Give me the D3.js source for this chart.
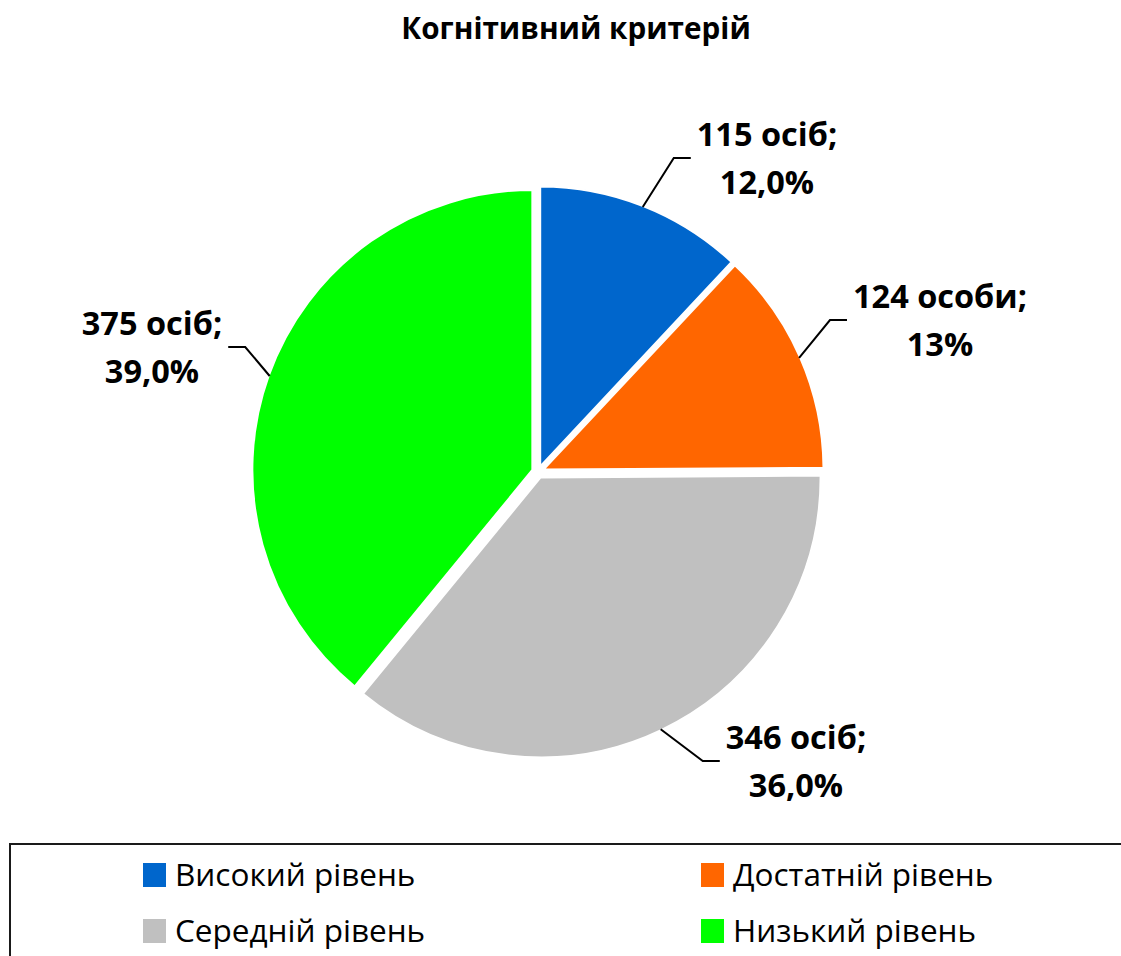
<!DOCTYPE html>
<html>
<head>
<meta charset="utf-8">
<script src="https://cdn.jsdelivr.net/npm/d3@7"></script>
<style>
  body { margin: 0; background: #fff; }
  svg { display: block; }
</style>
</head>
<body>
<div id="chart"></div>
<script>
// Data
//////////////////////////////////////////////////////////////////////
const categories = ["Високий рівень", "Достатній рівень", "Середній рівень", "Низький рівень"];
const counts = [115, 124, 346, 375];
const countLabels = ["115 осіб;", "124 особи;", "346 осіб;", "375 осіб;"];
const pctLabels = ["12,0%", "13%", "36,0%", "39,0%"];
const colors = ["#0066CC", "#FF6600", "#C0C0C0", "#00FF00"];
const title = "Когнітивний критерій";

// Layout
//////////////////////////////////////////////////////////////////////
width = 1121;
height = 956;
fontFamily = "'Open Sans', 'Noto Sans', sans-serif";
cx = 538; cy = 472;      // pie centre
radius = 280;
explode = 6;             // radial offset of each slice
lineH = 48;              // line spacing of data labels
// label block: centre x, first baseline y, side of the leader
const labelAt = [
  { x: 767, y: 146, side: "left" },
  { x: 940, y: 308, side: "left" },
  { x: 796, y: 749, side: "left" },
  { x: 152, y: 335, side: "right" }
];

const svg = d3.select("#chart").append("svg")
  .attr("width", width)
  .attr("height", height)
  .attr("font-family", fontFamily);

// Title
svg.append("text")
  .attr("x", 576)
  .attr("y", 39)
  .attr("text-anchor", "middle")
  .attr("font-weight", "bold")
  .attr("font-size", 29.7)
  .text(title);

// Pie
const pie = d3.pie().sort(null).value(d => d);
const arcs = pie(counts);
const arc = d3.arc().innerRadius(0).outerRadius(radius);
const mid = d => (d.startAngle + d.endAngle) / 2;

const g = svg.append("g").attr("transform", `translate(${cx},${cy})`);

g.selectAll("path")
  .data(arcs)
  .join("path")
  .attr("transform", d => `translate(${Math.sin(mid(d)) * explode},${-Math.cos(mid(d)) * explode})`)
  .attr("d", arc)
  .attr("fill", (d, i) => colors[i])
  .attr("stroke", "#fff")
  .attr("stroke-width", 2);

// Data labels
const labels = svg.append("g")
  .attr("font-weight", "bold")
  .attr("font-size", 32.5)
  .attr("text-anchor", "middle")
  .selectAll("text")
  .data(arcs)
  .join("text")
  .attr("x", (d, i) => labelAt[i].x)
  .attr("y", (d, i) => labelAt[i].y);
labels.append("tspan").attr("x", (d, i) => labelAt[i].x).text((d, i) => countLabels[i]);
labels.append("tspan").attr("x", (d, i) => labelAt[i].x).attr("dy", lineH).text((d, i) => pctLabels[i]);

// Leader lines: from slice edge at mid angle to an elbow, then horizontal to label
labels.each(function (d, i) {
  const w = d3.max(d3.select(this).selectAll("tspan").nodes(), n => n.getComputedTextLength());
  const L = labelAt[i];
  const sx = cx + Math.sin(mid(d)) * (radius + explode - 1);
  const sy = cy - Math.cos(mid(d)) * (radius + explode - 1);
  const ey = L.y + 12;
  const ex = L.side === "left" ? L.x - w / 2 - 6 : L.x + w / 2 + 6;
  const kx = L.side === "left" ? ex - 17 : ex + 17;
  svg.append("path")
    .attr("d", `M${sx},${sy}L${kx},${ey}L${ex},${ey}`)
    .attr("fill", "none")
    .attr("stroke", "#000")
    .attr("stroke-width", 2);
});

// Legend
const legend = svg.append("g");
legend.append("rect")
  .attr("x", 10)
  .attr("y", 844)
  .attr("width", 1130)
  .attr("height", 140)
  .attr("fill", "none")
  .attr("stroke", "#1a1a1a")
  .attr("stroke-width", 2);

const col = d3.scaleOrdinal().domain([0, 1]).range([143, 701]);
const row = d3.scaleOrdinal().domain([0, 1]).range([875, 931]);

const item = legend.selectAll("g.item")
  .data(categories)
  .join("g")
  .attr("class", "item")
  .attr("transform", (d, i) => `translate(${col(i % 2)},${row(Math.floor(i / 2))})`);
item.append("rect")
  .attr("x", 0)
  .attr("y", -12)
  .attr("width", 23)
  .attr("height", 24)
  .attr("fill", (d, i) => colors[i]);
item.append("text")
  .attr("x", 32)
  .attr("dy", "0.35em")
  .attr("font-size", 31.5)
  .text(d => d);
</script>
</body>
</html>
